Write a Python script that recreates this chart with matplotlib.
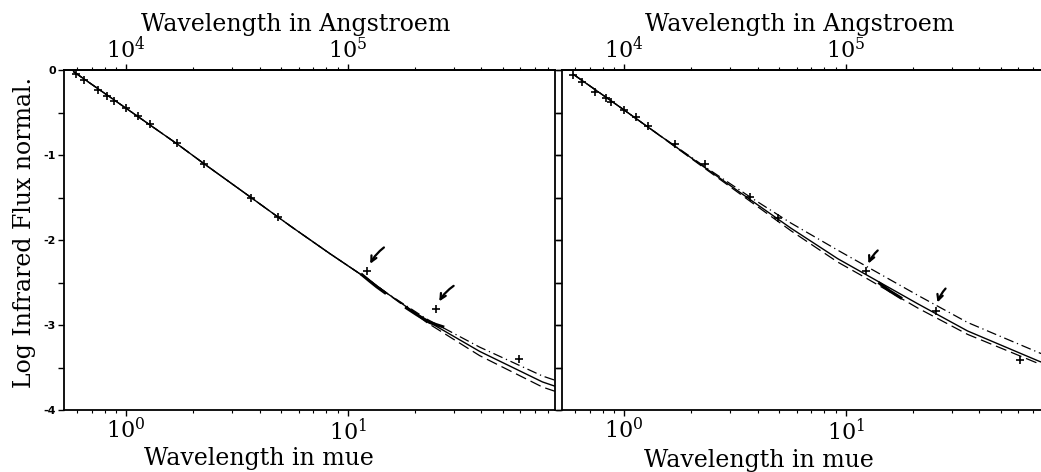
import numpy as np
import matplotlib.pyplot as plt
from matplotlib.ticker import FixedLocator, LogLocator, MultipleLocator, NullFormatter

plt.rcParams['font.family'] = 'DejaVu Serif'
plt.rcParams['mathtext.fontset'] = 'dejavuserif'
plt.rcParams['axes.unicode_minus'] = False

# --- left panel: photometry (micron, log flux) ---
wl_a = [0.595, 0.647, 0.748, 0.821, 0.883, 1.0, 1.13, 1.28, 1.70, 2.24, 3.66, 4.84, 12.2, 24.9, 59.0]
flux_a = [-0.05, -0.12, -0.23, -0.31, -0.37, -0.45, -0.54, -0.64, -0.86, -1.10, -1.50, -1.73, -2.37, -2.81, -3.40]

# model curves, left panel
mod_wl_a = [0.58, 1.0, 1.7, 2.24, 3.66, 5.54, 8.3, 12.3, 14.7, 22.7, 39.3, 75.5, 86.0]
mod_solid_a = [-0.02, -0.45, -0.87, -1.10, -1.50, -1.84, -2.16, -2.46, -2.61, -2.95, -3.31, -3.67, -3.72]
mod_dashdot_a = [-0.02, -0.45, -0.87, -1.10, -1.50, -1.84, -2.16, -2.46, -2.61, -2.93, -3.26, -3.60, -3.65]
mod_dashed_a = [-0.02, -0.45, -0.87, -1.10, -1.50, -1.84, -2.16, -2.46, -2.61, -2.97, -3.36, -3.73, -3.78]

# LRS spectrum pieces, left panel
lrs_wl_a = [[11.6, 12.5, 13.5, 14.7], [18.4, 20.5, 23.4, 26.8]]
lrs_f_a = [[-2.41, -2.48, -2.55, -2.62], [-2.80, -2.88, -2.97, -3.02]]

# --- right panel ---
wl_b = [0.59, 0.647, 0.74, 0.83, 0.875, 1.0, 1.13, 1.28, 1.70, 2.32, 3.70, 4.94, 12.3, 25.4, 60.8]
flux_b = [-0.06, -0.14, -0.26, -0.33, -0.38, -0.47, -0.55, -0.66, -0.87, -1.10, -1.49, -1.74, -2.37, -2.83, -3.41]

mod_wl_b = [0.59, 1.0, 1.28, 2.32, 3.73, 5.65, 9.2, 12.2, 21.1, 35.4, 75.0, 90.0]
mod_solid_b = [-0.05, -0.47, -0.67, -1.15, -1.53, -1.86, -2.22, -2.40, -2.75, -3.07, -3.43, -3.50]
mod_dashdot_b = [-0.05, -0.47, -0.67, -1.14, -1.50, -1.80, -2.12, -2.30, -2.65, -2.97, -3.33, -3.40]
mod_dashed_b = [-0.05, -0.47, -0.67, -1.16, -1.55, -1.89, -2.26, -2.44, -2.80, -3.11, -3.46, -3.53]

lrs_wl_b = [[14.2, 15.8, 17.7]]
lrs_f_b = [[-2.51, -2.60, -2.68]]

# arrows: (point, tail offset px)
arrows_a = [((12.2, -2.37), (17, 24)), ((24.9, -2.81), (18, 23))]
arrows_b = [((12.3, -2.37), (12, 21)), ((25.4, -2.83), (10, 22))]

fig = plt.figure(figsize=(10.41, 4.72), dpi=100)
ax1 = fig.add_axes([64 / 1041, 62 / 472, 491 / 1041, 340 / 472])
ax2 = fig.add_axes([562 / 1041, 62 / 472, 491 / 1041, 340 / 472])


def draw_panel(ax, wl, flux, mwl, solid, dashdot, dashed, lwl, lf, arrows, ylabels):
    ax.plot(mwl, solid, color='black', lw=1.0)
    ax.plot(mwl, dashdot, color='black', lw=0.9, ls=(0, (8, 3, 1, 3)))
    ax.plot(mwl, dashed, color='black', lw=0.9, ls=(0, (9, 4)))
    for xs, ys in zip(lwl, lf):
        ax.plot(xs, ys, color='black', lw=2.2)
    ax.plot(wl, flux, ls='none', marker='+', ms=6, mew=1.2, color='black')
    for pt, tail in arrows:
        ax.annotate('', xy=pt, xytext=tail, textcoords='offset pixels',
                    arrowprops=dict(arrowstyle='->', lw=1.6, color='black',
                                    shrinkA=0, shrinkB=6,
                                    connectionstyle='arc3,rad=0.15'))

    ax.set_xscale('log')
    ax.set_xlim(0.525, 86)
    ax.set_ylim(-4, 0)
    ax.xaxis.set_major_locator(FixedLocator([1, 10]))
    ax.xaxis.set_minor_locator(LogLocator(base=10, subs=np.arange(2, 10)))
    ax.xaxis.set_minor_formatter(NullFormatter())
    ax.yaxis.set_major_locator(MultipleLocator(1))
    ax.yaxis.set_minor_locator(MultipleLocator(0.5))
    ax.tick_params(axis='x', which='major', direction='out', length=4, width=1, labelsize=16, pad=2)
    ax.tick_params(axis='x', which='minor', direction='out', length=2.5, width=0.8)
    ax.tick_params(axis='y', which='both', direction='out', length=4, width=1,
                   right=True, pad=2, labelleft=ylabels)
    for lab in ax.get_yticklabels():
        lab.set_fontfamily('DejaVu Sans')
        lab.set_fontweight('bold')
        lab.set_fontsize(8)
    for sp in ax.spines.values():
        sp.set_linewidth(1.3)

    top = ax.secondary_xaxis('top', functions=(lambda x: x * 1e4, lambda x: x / 1e4))
    top.xaxis.set_major_locator(FixedLocator([1e4, 1e5]))
    top.xaxis.set_minor_locator(LogLocator(base=10, subs=np.arange(2, 10)))
    top.xaxis.set_minor_formatter(NullFormatter())
    top.tick_params(axis='x', which='major', direction='out', length=4, width=1, labelsize=16, pad=1)
    top.tick_params(axis='x', which='minor', direction='out', length=2.5, width=0.8)
    top.spines['top'].set_linewidth(1.3)


draw_panel(ax1, wl_a, flux_a, mod_wl_a, mod_solid_a, mod_dashdot_a, mod_dashed_a,
           lrs_wl_a, lrs_f_a, arrows_a, True)
draw_panel(ax2, wl_b, flux_b, mod_wl_b, mod_solid_b, mod_dashdot_b, mod_dashed_b,
           lrs_wl_b, lrs_f_b, arrows_b, False)

# axis titles
fig.text(296 / 1041, 1 - 24 / 472, 'Wavelength in Angstroem', ha='center', va='center', fontsize=17)
fig.text(259 / 1041, 1 - 458 / 472, 'Wavelength in mue', ha='center', va='center', fontsize=17)
fig.text(800 / 1041, 1 - 24 / 472, 'Wavelength in Angstroem', ha='center', va='center', fontsize=17)
fig.text(759 / 1041, 1 - 460 / 472, 'Wavelength in mue', ha='center', va='center', fontsize=17)
fig.text(25 / 1041, 1 - 232 / 472, 'Log Infrared Flux normal.', ha='center', va='center',
         rotation=90, fontsize=17)

fig.savefig('out.png', dpi=100)
